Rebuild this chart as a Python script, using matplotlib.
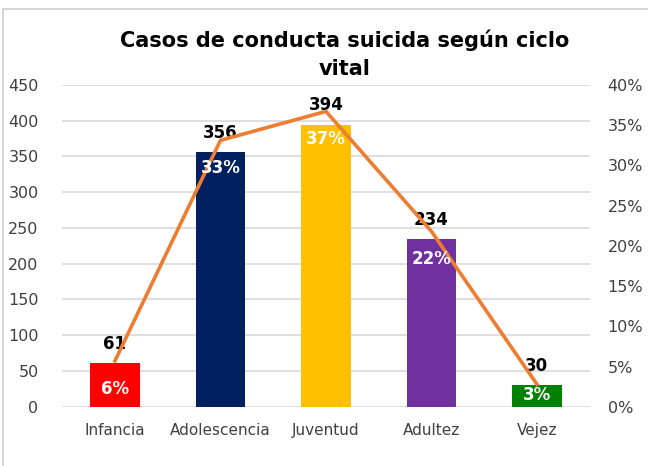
import matplotlib.pyplot as plt
import numpy as np
from matplotlib.patches import Rectangle

categorias = ["Infancia", "Adolescencia", "Juventud", "Adultez", "Vejez"]
casos = [61, 356, 394, 234, 30]
porcentajes = [5.7, 33.1, 36.7, 21.8, 2.8]
etiquetas_pct = ["6%", "33%", "37%", "22%", "3%"]
colores = ["#FF0000", "#002060", "#FFC000", "#7030A0", "#008000"]

plt.rcParams['font.family'] = ['DejaVu Sans']

fig = plt.figure(figsize=(6.48, 4.66), dpi=100)
fig.patches.append(Rectangle((0.005, -0.02), 1.2, 1.0, transform=fig.transFigure,
                             fill=False, edgecolor="#D0D0D0", linewidth=1.2))
ax = fig.add_axes([0.096, 0.127, 0.814, 0.691])
ax2 = ax.twinx()

x = np.arange(len(categorias))
ax.bar(x, casos, width=0.47, color=colores, zorder=2)
ax.set_ylim(0, 450)
ax.set_yticks(range(0, 451, 50))
ax.set_xlim(-0.5, len(categorias) - 0.5)
ax.set_xticks(x)
ax.set_xticklabels(categorias)
ax.yaxis.grid(True, color="#D9D9D9", linewidth=1.2, zorder=0)
ax.set_axisbelow(True)
for s in ax.spines.values():
    s.set_visible(False)
for s in ax2.spines.values():
    s.set_visible(False)
ax.tick_params(axis='both', length=0, labelcolor="#404040")
ax.tick_params(axis='x', pad=12, labelsize=11)
ax.tick_params(axis='y', pad=17, labelsize=11.5)

ax2.plot(x, porcentajes, color="#ED7D31", linewidth=2.6, zorder=3)
ax2.set_ylim(0, 40)
ax2.set_yticks(range(0, 41, 5))
ax2.set_yticklabels([f"{v}%" for v in range(0, 41, 5)])
ax2.tick_params(axis='y', length=0, labelsize=11.5, labelcolor="#404040", pad=13)

for i, v in enumerate(casos):
    ax.annotate(str(v), (x[i], v), xytext=(0, 14), textcoords="offset points",
                ha="center", va="center", fontsize=12, fontweight="bold",
                color="black", zorder=5)

for i, p in enumerate(porcentajes):
    off = -20 if p > 4 else -8
    ax2.annotate(etiquetas_pct[i], (x[i], p), xytext=(0, off), textcoords="offset points",
                 ha="center", va="center", fontsize=12, fontweight="bold",
                 color="white", zorder=5)

fig.text(0.532, 0.884, "Casos de conducta suicida según ciclo\nvital", ha="center",
         va="center", fontsize=15, fontweight="bold", linespacing=1.5)

fig.savefig("out.png", dpi=100)
